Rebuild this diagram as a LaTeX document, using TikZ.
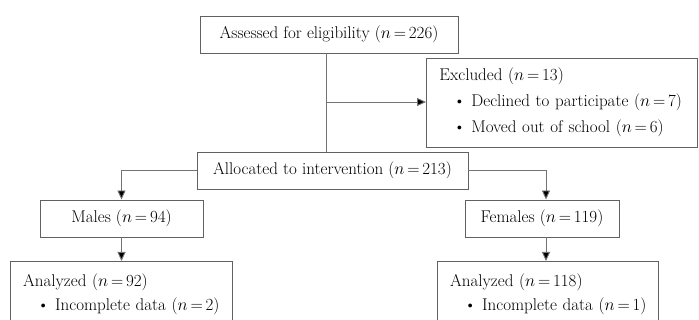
\documentclass[tikz,border=0pt]{standalone}
\usetikzlibrary{positioning, calc, arrows.meta}
\colorlet{boxgray}{black!62}
\colorlet{linegray}{black!55}
\tikzset{
  > = {Triangle[length = 9pt, width = 8pt]},
  every node/.style = {font = \fontsize{17}{26}\selectfont},
  stage/.style = {draw = boxgray, line width = 0.9pt, inner sep = 0pt,
    minimum height = 37pt},
  listtext/.style = {anchor = north west, align = left, inner xsep = 13pt,
    inner ysep = 0pt, text width = #1},
  flow/.style = {draw = linegray, line width = 0.9pt, -{>[fill = black]}},
  trunk/.style = {draw = linegray, line width = 0.9pt}
}
\newcommand {\bulletitem} [1] {\hspace*{14pt}\textbullet\ #1}
\newcommand {\nval} [1] {$n$\,=\,#1}

\begin{document}
\begin{tikzpicture}[x = 1pt, y = -1pt]
\useasboundingbox (0,0) rectangle (699,320);

%% Stages
\node [stage, minimum width = 258pt] (assessed) at (329,34.5)
  {Assessed for eligibility (\nval{226})};
\node [stage, minimum width = 271pt] (allocated) at (332.5,170.5)
  {Allocated to intervention (\nval{213})};
\node [stage, minimum width = 163pt] (males) at (121.5,218.5)
  {Males (\nval{94})};
\node [stage, minimum width = 154pt] (females) at (542,218.5)
  {Females (\nval{119})};

%% Excluded
\node [stage, listtext = 245pt, anchor = west, minimum height = 89pt]
  (excluded) at (426,102.5)
  {Excluded (\nval{13})\\
   \bulletitem{Declined to participate (\nval{7})}\\
   \bulletitem{Moved out of school (\nval{6})}};

%% Analyzed
\node [listtext = 196pt, minimum height = 13pt] (analyzedM) at (10,261) {};
\node [listtext = 196pt, minimum height = 13pt] (analyzedF) at (437,261) {};
\draw [boxgray, line width = 0.9pt] (analyzedM.north west) rectangle ++(222,80);
\draw [boxgray, line width = 0.9pt] (analyzedF.north west) rectangle ++(221,80);
\node [listtext = 205pt, anchor = west, font = \fontsize{17}{24}\selectfont]
  (analyzedMtext) at (10,294)
  {Analyzed (\nval{92})\\
   \bulletitem{Incomplete data (\nval{2})}};
\node [listtext = 205pt, anchor = west, font = \fontsize{17}{24}\selectfont]
  (analyzedFtext) at (437,294)
  {Analyzed (\nval{118})\\
   \bulletitem{Incomplete data (\nval{1})}};

%% Connectors
\coordinate (split) at (326,102);
\coordinate (fline) at (546,170.5);
\path [trunk] (split |- assessed.south) -- (split |- allocated.north);
\path [flow] (split) -- (split -| excluded.west);
\path [flow] (allocated.west) -| (males.north);
\path [flow] (allocated.east) -| (fline |- females.north);
\path [flow] (males.south) -- (males.south |- analyzedM.north);
\path [flow] (fline |- females.south) -- (fline |- analyzedF.north);

\end{tikzpicture}
\end{document}
